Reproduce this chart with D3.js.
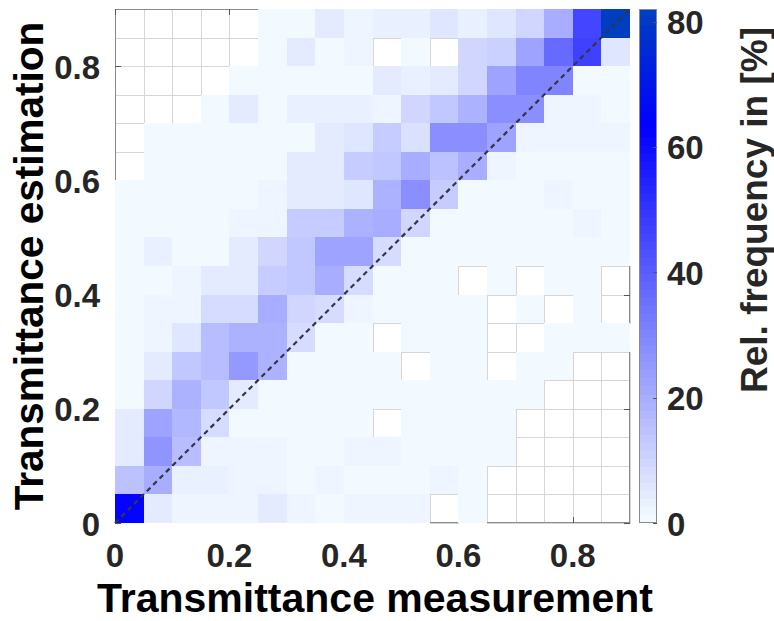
<!DOCTYPE html>
<html>
<head>
<meta charset="utf-8">
<script src="https://cdn.jsdelivr.net/npm/d3@7"></script>
<style>
  html, body { margin: 0; padding: 0; background: #fff; }
  svg { display: block; }
  text { font-family: "Liberation Sans", Arial, Helvetica, sans-serif; font-weight: bold; }
</style>
</head>
<body>
<svg id="chart" width="774" height="621"></svg>
<script>
// Lower edges of the transmittance bins (bin width 0.05)
const binStarts = [0, 0.05, 0.1, 0.15, 0.2, 0.25, 0.3, 0.35, 0.4, 0.45,
                   0.5, 0.55, 0.6, 0.65, 0.7, 0.75, 0.8, 0.85];
const binWidth = 0.05;

// Relative frequency [%] per bin; one row per estimation bin, top (0.85–0.9) to bottom (0–0.05),
// one entry per measurement bin from left (0) to right (0.85). 0 = empty bin.
const relFreq = [
  [0, 0, 0, 0, 0, 1, 1, 4, 1.5, 3, 3, 6, 3, 6, 9, 20, 45, 82],
  [0, 0, 0, 0, 0, 1, 4, 1, 2, 0, 1, 0, 9, 11, 22, 36, 47, 6],
  [0, 0, 0, 0, 1, 1, 1, 1, 1, 5, 3, 4, 9, 22, 30, 30, 1, 1],
  [0, 0, 0, 0.5, 4, 1, 3, 3, 3, 2, 9, 13, 19, 28, 27, 2, 2, 0.5],
  [0, 1, 1, 1, 1, 1, 1, 5, 6, 12, 7, 27, 27, 23, 2, 1.5, 1.5, 1.5],
  [0, 0.5, 0.5, 0.5, 0.5, 0.5, 4, 4, 12, 14, 20, 15, 20, 2, 1, 1, 1, 1],
  [0.5, 0.5, 0.5, 0.5, 0.5, 1.5, 4, 4, 6, 18, 27, 12, 1, 1, 0.5, 2, 0.5, 0.5],
  [0.5, 0.5, 0.5, 0.5, 2, 2, 12, 12, 18, 20, 10, 0.5, 0.5, 0.5, 0.5, 0.5, 2, 0.5],
  [0.5, 3, 0.5, 0.5, 4, 10, 14, 22, 22, 8, 0.5, 0.5, 0.5, 0.5, 0.5, 0.5, 0.5, 0.5],
  [0.5, 0.5, 2, 4, 4, 12, 14, 20, 8, 0.5, 0.5, 0.5, 0, 0.5, 0, 0.5, 0.5, 0],
  [0.5, 2, 2, 8, 8, 20, 10, 8, 2, 0.5, 0.5, 0.5, 0.5, 0, 0.5, 0, 0.5, 0],
  [0.5, 2, 6, 16, 18, 18, 8, 0.5, 0.5, 0, 0.5, 0.5, 0.5, 0, 0, 0.5, 0.5, 0.5],
  [0.5, 4, 14, 16, 25, 18, 0.5, 0.5, 0.5, 0.5, 0, 0.5, 0.5, 0, 0.5, 0.5, 0, 0],
  [0.5, 10, 18, 14, 4, 0.5, 0.5, 0.5, 0.5, 0.5, 0.5, 0.5, 0.5, 0.5, 0.5, 0, 0, 0],
  [5, 22, 17, 8, 0.5, 0.5, 0.5, 0.5, 0.5, 0, 0.5, 0.5, 0.5, 0.5, 0, 0, 0, 0],
  [5, 26, 16, 2, 2, 2, 0.5, 0.5, 2, 2, 0.5, 0.5, 0.5, 0.5, 0, 0, 0, 0],
  [15, 20, 3, 3, 2, 2, 0.5, 2, 0.5, 0.5, 0.5, 2, 0.5, 0, 0, 0, 0, 0],
  [62, 4, 2, 2, 2, 4, 2, 0.5, 2, 2, 2, 0, 0.5, 0, 0, 0, 0, 0]
];

const axisTicks = [0, 0.2, 0.4, 0.6, 0.8];
const axisTickLabels = ["0", "0.2", "0.4", "0.6", "0.8"];
const colorTicks = [0, 20, 40, 60, 80];
const colorMax = 82;

const xTitle = "Transmittance measurement";
const yTitle = "Transmittance estimation";
const cbTitle = "Rel. frequency in [%]";

// ---- layout ----
const plot = { left: 115, right: 630, top: 9, bottom: 523 };
const cb = { left: 639, right: 657 };
const nLevels = 64;

const svg = d3.select("#chart");

const x = d3.scaleLinear().domain([0, 0.9]).range([plot.left, plot.right]);
const y = d3.scaleLinear().domain([0, 0.9]).range([plot.bottom, plot.top]);
const cbY = d3.scaleLinear().domain([0, colorMax]).range([plot.bottom, plot.top]);

// white -> blue -> dark blue, sampled into discrete levels
const ramp = d3.scaleLinear()
  .domain([0, 63, colorMax])
  .range(["#f6fdff", "#0000ff", "#0040bf"])
  .interpolate(d3.interpolateRgb)
  .clamp(true);
function levelColor(v) {
  const k = Math.min(nLevels - 1, Math.floor(v / colorMax * nLevels));
  return ramp((k + 0.5) / nLevels * colorMax);
}

// flatten into cells
const nRows = relFreq.length;
const cells = [];
relFreq.forEach((row, r) => {
  const est = binStarts[nRows - 1 - r];
  row.forEach((v, c) => cells.push({ meas: binStarts[c], est, v }));
});
const rx = d => Math.round(x(d.meas));
const rw = d => Math.round(x(d.meas + binWidth)) - rx(d);
const ry = d => Math.round(y(d.est + binWidth));
const rh = d => Math.round(y(d.est)) - ry(d);

// empty bins: only their edges show
svg.append("g")
  .selectAll("rect")
  .data(cells.filter(d => d.v === 0))
  .join("rect")
  .attr("x", d => rx(d) + 0.5)
  .attr("y", d => ry(d) + 0.5)
  .attr("width", rw)
  .attr("height", rh)
  .attr("fill", "none")
  .attr("stroke", "#d6d6d6")
  .attr("stroke-width", 1);

// axes box and inward ticks (beneath the tiles)
const axisG = svg.append("g").attr("stroke", "#8a8a8a").attr("stroke-width", 1).attr("fill", "none");
axisG.append("rect")
  .attr("x", plot.left + 0.5).attr("y", plot.top + 0.5)
  .attr("width", plot.right - plot.left - 1).attr("height", plot.bottom - plot.top - 1);
const tl = 6;
axisTicks.forEach(t => {
  const px = Math.round(x(t)) + 0.5, py = Math.round(y(t)) + 0.5;
  axisG.append("line").attr("x1", px).attr("x2", px).attr("y1", plot.bottom).attr("y2", plot.bottom - tl).attr("stroke", "#555");
  axisG.append("line").attr("x1", px).attr("x2", px).attr("y1", plot.top).attr("y2", plot.top + tl).attr("stroke", "#555");
  axisG.append("line").attr("y1", py).attr("y2", py).attr("x1", plot.left).attr("x2", plot.left + tl).attr("stroke", "#555");
  axisG.append("line").attr("y1", py).attr("y2", py).attr("x1", plot.right).attr("x2", plot.right - tl).attr("stroke", "#555");
});

// filled bins
svg.append("g")
  .attr("shape-rendering", "crispEdges")
  .selectAll("rect")
  .data(cells.filter(d => d.v > 0))
  .join("rect")
  .attr("x", rx)
  .attr("y", ry)
  .attr("width", rw)
  .attr("height", rh)
  .attr("fill", d => levelColor(d.v));

// identity line
svg.append("line")
  .attr("x1", x(0)).attr("y1", y(0))
  .attr("x2", x(0.9)).attr("y2", y(0.9))
  .attr("stroke", "#353542")
  .attr("stroke-width", 2.2)
  .attr("stroke-dasharray", "5,4");

// tick labels
const tickFont = 33;
svg.append("g").selectAll("text")
  .data(axisTicks)
  .join("text")
  .attr("x", d => x(d))
  .attr("y", 567)
  .attr("text-anchor", "middle")
  .attr("font-size", tickFont)
  .attr("fill", "#262626")
  .text((d, i) => axisTickLabels[i]);

svg.append("g").selectAll("text")
  .data(axisTicks)
  .join("text")
  .attr("x", 100)
  .attr("y", d => y(d) + 12.5)
  .attr("text-anchor", "end")
  .attr("font-size", tickFont)
  .attr("fill", "#262626")
  .text((d, i) => axisTickLabels[i]);

// axis titles
svg.append("text")
  .attr("x", 375)
  .attr("y", 612)
  .attr("text-anchor", "middle")
  .attr("font-size", 41)
  .attr("fill", "#000")
  .text(xTitle);

svg.append("text")
  .attr("transform", `translate(43, ${(plot.top + plot.bottom) / 2}) rotate(-90)`)
  .attr("text-anchor", "middle")
  .attr("font-size", 40.5)
  .attr("fill", "#000")
  .text(yTitle);

// colorbar
const cbG = svg.append("g");
const levels = d3.range(nLevels);
cbG.append("g")
  .attr("shape-rendering", "crispEdges")
  .selectAll("rect")
  .data(levels)
  .join("rect")
  .attr("x", cb.left)
  .attr("width", cb.right - cb.left)
  .attr("y", k => Math.round(cbY((k + 1) / nLevels * colorMax)))
  .attr("height", k => Math.round(cbY(k / nLevels * colorMax)) - Math.round(cbY((k + 1) / nLevels * colorMax)))
  .attr("fill", k => ramp((k + 0.5) / nLevels * colorMax));
cbG.append("rect")
  .attr("x", cb.left + 0.5).attr("y", plot.top + 0.5)
  .attr("width", cb.right - cb.left - 1).attr("height", plot.bottom - plot.top - 1)
  .attr("fill", "none").attr("stroke", "#8a8a8a");
colorTicks.forEach(t => {
  const py = Math.round(cbY(t)) + 0.5;
  cbG.append("line").attr("x1", cb.right - 4).attr("x2", cb.right).attr("y1", py).attr("y2", py)
    .attr("stroke", "#555");
});
cbG.selectAll("text.cbt")
  .data(colorTicks)
  .join("text")
  .attr("class", "cbt")
  .attr("x", 667)
  .attr("y", d => cbY(d) + 12.5)
  .attr("font-size", tickFont)
  .attr("fill", "#262626")
  .text(d => d);

svg.append("text")
  .attr("transform", "translate(767, 210) rotate(-90)")
  .attr("text-anchor", "middle")
  .attr("font-size", 37)
  .attr("fill", "#262626")
  .text(cbTitle);
</script>
</body>
</html>
